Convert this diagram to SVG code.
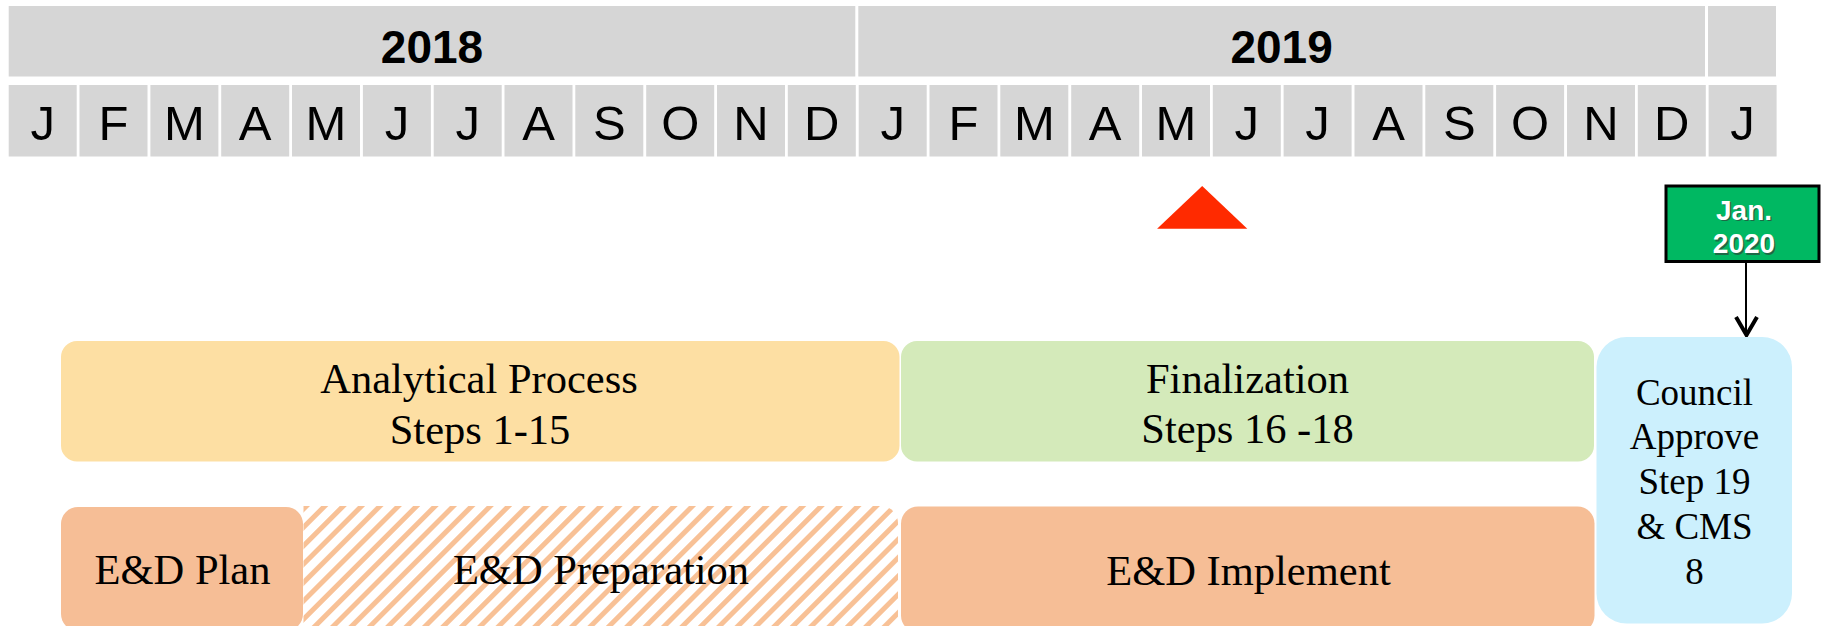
<svg xmlns="http://www.w3.org/2000/svg" width="1822" height="626" viewBox="0 0 1822 626">
<defs>
<style>
.cell{fill:#D6D6D6}
.mon{font-family:"Liberation Sans",Arial,sans-serif;font-size:49px;fill:#000;text-anchor:middle}
.yr{font-family:"Liberation Sans",Arial,sans-serif;font-size:46px;font-weight:bold;fill:#000;text-anchor:middle}
.lbl{font-family:"Liberation Serif","Times New Roman",serif;font-size:42.5px;fill:#000;text-anchor:middle}
.lbs{font-family:"Liberation Serif","Times New Roman",serif;font-size:37px;fill:#000;text-anchor:middle}
.gt{font-family:"Liberation Sans",Arial,sans-serif;font-size:28px;font-weight:bold;text-anchor:middle}
.conn{stroke:#000;fill:none}
</style>
<pattern id="hatch" patternUnits="userSpaceOnUse" width="13" height="13" patternTransform="rotate(45)">
<rect x="0" y="0" width="5" height="13" fill="#F8C196"/>
</pattern>
</defs>
<rect width="1822" height="626" fill="#FFFFFF"/>

<g id="years">
<rect class="cell" x="8.7" y="6" width="846.6" height="70.5"/>
<rect class="cell" x="858.3" y="6" width="846.7" height="70.5"/>
<rect class="cell" x="1708" y="6" width="68" height="70.5"/>
<text class="yr" x="432" y="62.5">2018</text>
<text class="yr" x="1281.6" y="62.5">2019</text>
</g>

<g id="months">
<rect class="cell" x="8.7" y="85" width="68" height="71.5"/>
<rect class="cell" x="79.5" y="85" width="68" height="71.5"/>
<rect class="cell" x="150.4" y="85" width="68" height="71.5"/>
<rect class="cell" x="221.2" y="85" width="68" height="71.5"/>
<rect class="cell" x="292" y="85" width="68" height="71.5"/>
<rect class="cell" x="362.9" y="85" width="68" height="71.5"/>
<rect class="cell" x="433.7" y="85" width="68" height="71.5"/>
<rect class="cell" x="504.5" y="85" width="68" height="71.5"/>
<rect class="cell" x="575.3" y="85" width="68" height="71.5"/>
<rect class="cell" x="646.2" y="85" width="68" height="71.5"/>
<rect class="cell" x="717" y="85" width="68" height="71.5"/>
<rect class="cell" x="787.8" y="85" width="68" height="71.5"/>
<rect class="cell" x="858.7" y="85" width="68" height="71.5"/>
<rect class="cell" x="929.5" y="85" width="68" height="71.5"/>
<rect class="cell" x="1000.3" y="85" width="68" height="71.5"/>
<rect class="cell" x="1071.2" y="85" width="68" height="71.5"/>
<rect class="cell" x="1142" y="85" width="68" height="71.5"/>
<rect class="cell" x="1212.8" y="85" width="68" height="71.5"/>
<rect class="cell" x="1283.6" y="85" width="68" height="71.5"/>
<rect class="cell" x="1354.5" y="85" width="68" height="71.5"/>
<rect class="cell" x="1425.3" y="85" width="68" height="71.5"/>
<rect class="cell" x="1496.1" y="85" width="68" height="71.5"/>
<rect class="cell" x="1567" y="85" width="68" height="71.5"/>
<rect class="cell" x="1637.8" y="85" width="68" height="71.5"/>
<rect class="cell" x="1708.6" y="85" width="68" height="71.5"/>
<text class="mon" x="42.7" y="139.5">J</text>
<text class="mon" x="113.5" y="139.5">F</text>
<text class="mon" x="184.4" y="139.5">M</text>
<text class="mon" x="255.2" y="139.5">A</text>
<text class="mon" x="326" y="139.5">M</text>
<text class="mon" x="396.9" y="139.5">J</text>
<text class="mon" x="467.7" y="139.5">J</text>
<text class="mon" x="538.5" y="139.5">A</text>
<text class="mon" x="609.3" y="139.5">S</text>
<text class="mon" x="680.2" y="139.5">O</text>
<text class="mon" x="751" y="139.5">N</text>
<text class="mon" x="821.8" y="139.5">D</text>
<text class="mon" x="892.7" y="139.5">J</text>
<text class="mon" x="963.5" y="139.5">F</text>
<text class="mon" x="1034.3" y="139.5">M</text>
<text class="mon" x="1105.2" y="139.5">A</text>
<text class="mon" x="1176" y="139.5">M</text>
<text class="mon" x="1246.8" y="139.5">J</text>
<text class="mon" x="1317.6" y="139.5">J</text>
<text class="mon" x="1388.5" y="139.5">A</text>
<text class="mon" x="1459.3" y="139.5">S</text>
<text class="mon" x="1530.1" y="139.5">O</text>
<text class="mon" x="1601" y="139.5">N</text>
<text class="mon" x="1671.8" y="139.5">D</text>
<text class="mon" x="1742.6" y="139.5">J</text>
</g>

<g id="marker-today">
<polygon points="1202.2,186 1247.3,228.7 1157.1,228.7" fill="#FF2A00"/>
</g>

<g id="jan2020">
<rect x="1666" y="186" width="153" height="75.5" fill="#00B862" stroke="#000" stroke-width="3"/>
<text class="gt" x="1745.5" y="221" fill="#333" fill-opacity="0.6">Jan.</text>
<text class="gt" x="1745.5" y="254.5" fill="#333" fill-opacity="0.6">2020</text>
<text class="gt" x="1744" y="219.5" fill="#FFFFFF">Jan.</text>
<text class="gt" x="1744" y="253" fill="#FFFFFF">2020</text>
</g>

<g id="connectors">
<line class="conn" x1="1746" y1="262" x2="1746" y2="335" stroke-width="2"/>
<polyline class="conn" points="1736,317 1746.5,335 1757,317" stroke-width="4"/>
</g>

<g id="analytical">
<rect x="61" y="341" width="838.5" height="120.5" rx="16" fill="#FDDFA3"/>
<text class="lbl" x="479" y="392.7">Analytical Process</text>
<text class="lbl" x="480" y="444">Steps 1-15</text>
</g>

<g id="finalization">
<rect x="901" y="341" width="693" height="120.5" rx="16" fill="#D4EABA"/>
<text class="lbl" x="1247.5" y="392.7">Finalization</text>
<text class="lbl" x="1247.5" y="443.3">Steps 16 -18</text>
</g>

<g id="council">
<rect x="1596.5" y="337" width="195.5" height="286.5" rx="30" fill="#CCF0FD"/>
<text class="lbs" x="1694.5" y="405">Council</text>
<text class="lbs" x="1694.5" y="448.5">Approve</text>
<text class="lbs" x="1694.5" y="493.5">Step 19</text>
<text class="lbs" x="1694.5" y="538.5">&amp; CMS</text>
<text class="lbs" x="1694.5" y="584">8</text>
</g>

<g id="ed-plan">
<rect x="61" y="507" width="242" height="124" rx="17" fill="#F6BE96"/>
<text class="lbl" x="182.5" y="584.3">E&amp;D Plan</text>
</g>

<g id="ed-preparation">
<path d="M303.5,506 H881 A17,17 0 0 1 898,523 V626 H303.5 Z" fill="url(#hatch)"/>
<text class="lbl" x="601" y="583.5">E&amp;D Preparation</text>
</g>

<g id="ed-implement">
<rect x="901" y="506.5" width="693.5" height="126" rx="17" fill="#F6BE96"/>
<text class="lbl" x="1248.5" y="585">E&amp;D Implement</text>
</g>
</svg>
